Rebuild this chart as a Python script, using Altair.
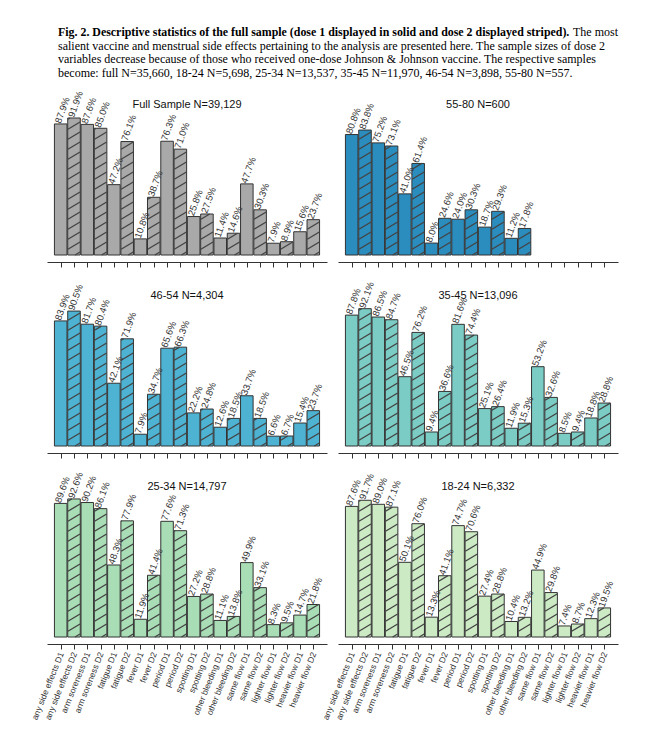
import altair as alt
import pandas as pd
import numpy as np

categories = ["any side effects D1", "any side effects D2", "arm soreness D1", "arm soreness D2",
              "fatigue D1", "fatigue D2", "fever D1", "fever D2", "period D1", "period D2",
              "spotting D1", "spotting D2", "other bleeding D1", "other bleeding D2",
              "same flow D1", "same flow D2", "lighter flow D1", "lighter flow D2",
              "heavier flow D1", "heavier flow D2"]

titles = ["Full Sample N=39,129", "55-80 N=600", "46-54 N=4,304", "35-45 N=13,096",
          "25-34 N=14,797", "18-24 N=6,332"]
colors = ["#a9a9a9", "#2b8cbe", "#4eb3d3", "#7bccc4", "#a8ddb5", "#ccebc5"]

full_sample = [87.9, 91.9, 87.6, 85.0, 47.2, 76.1, 10.8, 38.7, 76.3, 71.0,
               25.8, 27.5, 11.4, 14.6, 47.7, 30.3, 7.9, 8.9, 15.6, 23.7]
age_55_80 = [80.8, 83.8, 75.2, 73.1, 41.0, 61.4, 8.0, 24.6, 24.0, 30.3,
             18.7, 29.3, 11.2, 17.8]
age_46_54 = [83.9, 90.5, 81.7, 80.4, 42.1, 71.9, 7.9, 34.7, 65.6, 66.3,
             22.2, 24.8, 12.6, 18.5, 33.7, 18.5, 6.6, 6.7, 15.4, 23.7]
age_35_45 = [87.8, 92.1, 86.5, 84.7, 46.5, 76.2, 9.4, 36.6, 81.6, 74.4,
             25.1, 26.4, 11.9, 15.3, 53.2, 32.6, 8.5, 9.4, 18.8, 28.8]
age_25_34 = [89.6, 92.6, 90.2, 86.1, 48.3, 77.9, 11.9, 41.4, 77.6, 71.3,
             27.2, 28.8, 11.1, 13.8, 49.9, 33.1, 8.3, 9.5, 14.7, 21.8]
age_18_24 = [87.6, 91.7, 89.0, 87.1, 50.1, 76.0, 13.3, 41.1, 74.7, 70.6,
             27.4, 28.8, 10.4, 13.2, 44.9, 29.8, 7.4, 8.7, 12.3, 19.5]

caption_bold = ("Fig. 2. Descriptive statistics of the full sample (dose 1 displayed in solid "
                "and dose 2 displayed striped).")
caption_first_rest = "The most"
caption_lines = [
    "salient vaccine and menstrual side effects pertaining to the analysis are presented here. The sample sizes of dose 2",
    "variables decrease because of those who received one-dose Johnson & Johnson vaccine. The respective samples",
    "become: full N=35,660, 18-24 N=5,698, 25-34 N=13,537, 35-45 N=11,970, 46-54 N=3,898, 55-80 N=557.",
]

SANS = "Liberation Sans"
SERIF = "Liberation Serif"
W, H = 280, 164
YMAX = 110
NCAT = len(categories)
PAD_IN, PAD_OUT = 0.09, 0.2
C0 = PAD_OUT + (1 - PAD_IN) / 2
XDOM = [-C0, NCAT - PAD_IN + 2 * PAD_OUT - C0]
PX_U = W / (XDOM[1] - XDOM[0])
PX_P = H / YMAX
BW = PX_U * (1 - PAD_IN)

HATCH_ANGLE = 30.0
HATCH_GAP = 10.0  # vertical px between hatch lines


def hatch_segments(vals):
    m = np.tan(np.radians(HATCH_ANGLE))
    rows = []
    for i, v in enumerate(vals):
        if i % 2 == 0:
            continue
        hp = v * PX_P
        c = -m * BW + 3.0
        while c < hp:
            xs = max(0.0, -c / m)
            xe = min(BW, (hp - c) / m)
            if xe > xs + 0.3:
                ys, ye = c + m * xs, c + m * xe
                rows.append({
                    "u1": i - BW / (2 * PX_U) + xs / PX_U,
                    "u2": i - BW / (2 * PX_U) + xe / PX_U,
                    "v1": ys / PX_P,
                    "v2": ye / PX_P,
                })
            c += HATCH_GAP
    return pd.DataFrame(rows)


def caption_layers():
    cap_fs = 12
    layers = [
        alt.Chart(pd.DataFrame({"t": [caption_bold]})).mark_text(
            font=SERIF, fontSize=11.9, fontWeight="bold", align="left", baseline="middle",
            color="black").encode(x=alt.value(11), y=alt.value(-59), text="t:N"),
        alt.Chart(pd.DataFrame({"t": [caption_first_rest]})).mark_text(
            font=SERIF, fontSize=cap_fs, align="right", baseline="middle",
            color="black").encode(x=alt.value(571), y=alt.value(-59), text="t:N"),
    ]
    for j, line in enumerate(caption_lines):
        layers.append(alt.Chart(pd.DataFrame({"t": [line]})).mark_text(
            font=SERIF, fontSize=cap_fs, align="left", baseline="middle", color="black").encode(
            x=alt.value(11), y=alt.value(-45.3 + 13.7 * j), text="t:N"))
    return layers


def panel(title, vals, color, show_labels, extra=()):
    df = pd.DataFrame({"idx": list(range(len(vals))), "cat": categories[:len(vals)], "value": vals})
    xscale = alt.Scale(domain=XDOM, nice=False, zero=False)
    yscale = alt.Scale(domain=[0, YMAX], nice=False, zero=False)
    label_expr = "[" + ",".join("'" + c + "'" for c in categories) + "][datum.value]"
    axis = alt.Axis(values=list(range(NCAT)), labels=show_labels, labelExpr=label_expr,
                    labelAngle=-68, labelAlign="right", labelBaseline="middle",
                    labelFont=SANS, labelFontSize=8.5, labelColor="#333", labelPadding=3,
                    tickSize=5, tickColor="#333", domainColor="#333", offset=7,
                    grid=False, title=None, labelOverlap=False, labelFlush=False)
    X = lambda f: alt.X(f, scale=xscale, axis=axis)
    Y = lambda f: alt.Y(f, scale=yscale, axis=None)
    base = alt.Chart(df)
    bars = base.mark_bar(width=BW, stroke="#333", strokeWidth=1, fill=color).encode(
        x=X("idx:Q"), y=Y("value:Q"))
    hatch = alt.Chart(hatch_segments(vals)).mark_rule(color="#444", strokeWidth=1.4).encode(
        x=X("u1:Q"), x2="u2:Q", y=Y("v1:Q"), y2="v2:Q")
    labels = base.transform_calculate(lab="format(datum.value, '.1f') + '%'").mark_text(
        angle=290, align="left", baseline="middle", font=SANS, fontSize=9.5,
        color="#333", dy=-3, clip=True).encode(
        x=X("idx:Q"), y=Y("value:Q"), text="lab:N")
    ttl = alt.Chart(pd.DataFrame({"t": [title]})).mark_text(
        font=SANS, fontSize=11, color="#111", baseline="middle").encode(
        x=alt.value(W / 2), y=alt.value(14), text="t:N")
    return alt.layer(bars, hatch, labels, ttl, *extra).properties(width=W, height=H)


series = [full_sample, age_55_80, age_46_54, age_35_45, age_25_34, age_18_24]
panels = []
for k, (t, s, c) in enumerate(zip(titles, series, colors)):
    panels.append(panel(t, s, c, k >= 4, caption_layers() if k == 0 else ()))

chart = alt.concat(*panels, columns=2, spacing={"row": 27, "column": 11}, bounds="flush").properties(
    padding={"left": 21, "top": 18, "right": 5, "bottom": 5}, background="white"
).configure_view(strokeWidth=0, stroke="transparent")

chart.save("out.html", embed_options={"renderer": "svg", "actions": False})
